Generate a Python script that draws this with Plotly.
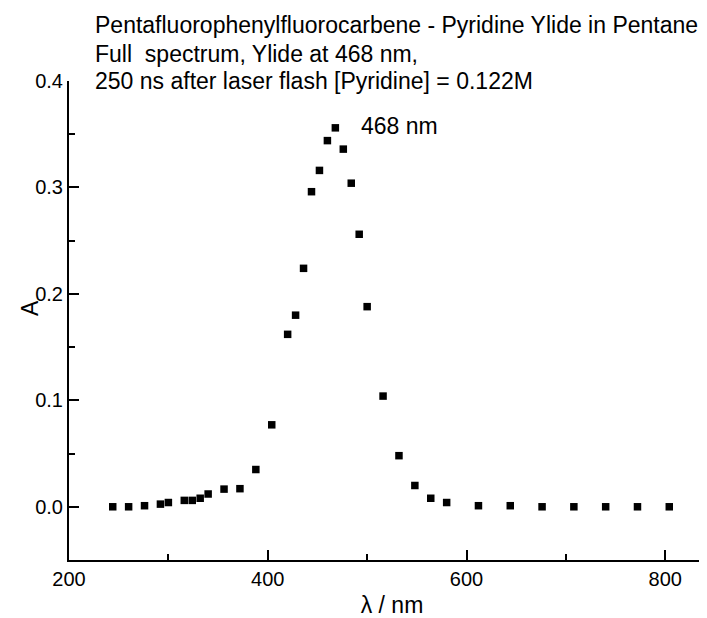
import plotly.graph_objects as go

# Wavelength (nm) and absorbance
wavelength = [244, 260, 276, 292, 300, 316, 324, 332, 340, 356, 372, 388, 404,
              420, 428, 436, 444, 452, 460, 468, 476, 484, 492, 500,
              516, 532, 548, 564, 580, 612, 644, 676, 708, 740, 772, 804]
absorbance = [0.000, 0.000, 0.001, 0.0025, 0.004, 0.006, 0.006, 0.008, 0.012, 0.0166, 0.017, 0.035, 0.077,
              0.162, 0.180, 0.224, 0.296, 0.316, 0.344, 0.356, 0.336, 0.304, 0.256, 0.188,
              0.104, 0.048, 0.020, 0.008, 0.004, 0.001, 0.001, 0.000, 0.000, 0.000, 0.000, 0.000]

title_lines = ["Pentafluorophenylfluorocarbene - Pyridine Ylide in Pentane",
               "Full\u00a0 spectrum, Ylide at 468 nm,",
               "250 ns after laser flash [Pyridine] = 0.122M"]
peak_label = "468 nm"
x_title = "λ / nm"
y_title = "A"

FONT = "Liberation Sans, Arial, sans-serif"

fig = go.Figure()
fig.add_trace(go.Scatter(
    x=wavelength, y=absorbance, mode="markers",
    marker=dict(symbol="square", size=7.5, color="black", line=dict(width=0)),
    showlegend=False, hoverinfo="x+y"))

W, H = 707, 618
L, R, T, B = 61, 0, 73, 66
ph = H - T - B
pw = W - L - R

def py(y_px):
    return (H - B - y_px) / ph

def px(x_px):
    return (x_px - L) / pw

annotations = []
for txt, ycen in zip(title_lines, [17, 46, 73]):
    annotations.append(dict(text=txt, xref="paper", yref="paper", x=px(85), y=py(ycen),
                            xanchor="left", yanchor="middle", showarrow=False,
                            font=dict(family=FONT, size=23, color="black")))
annotations.append(dict(text=peak_label, xref="x", yref="y", x=492, y=0.358,
                        xanchor="left", yanchor="middle", showarrow=False,
                        font=dict(family=FONT, size=23, color="black")))
annotations.append(dict(text=y_title, xref="paper", yref="paper", x=px(22), y=py(300),
                        xanchor="center", yanchor="middle", textangle=-90, showarrow=False,
                        font=dict(family=FONT, size=23, color="black")))

axis_common = dict(showline=True, linewidth=2, linecolor="black", mirror=False,
                   ticks="inside", ticklen=10, tickwidth=2, tickcolor="black",
                   showgrid=False, zeroline=False,
                   tickfont=dict(family=FONT, size=20, color="black"))

fig.update_layout(
    width=W, height=H,
    margin=dict(l=L, r=R, t=T, b=B, pad=0),
    paper_bgcolor="white", plot_bgcolor="white",
    font=dict(family=FONT, size=20, color="black"),
    xaxis=dict(range=[200, 850], tick0=200, dtick=200,
               minor=dict(tick0=200, dtick=100, ticks="inside", ticklen=6, tickwidth=2, tickcolor="black"),
               title=dict(text=x_title, font=dict(family=FONT, size=23, color="black"), standoff=8),
               **axis_common),
    yaxis=dict(range=[-0.05, 0.4], tick0=0, dtick=0.1, tickformat=".1f",
               minor=dict(tick0=0, dtick=0.05, ticks="inside", ticklen=6, tickwidth=2, tickcolor="black"),
               **axis_common),
    annotations=annotations,
)

fig.write_html("out.html")
